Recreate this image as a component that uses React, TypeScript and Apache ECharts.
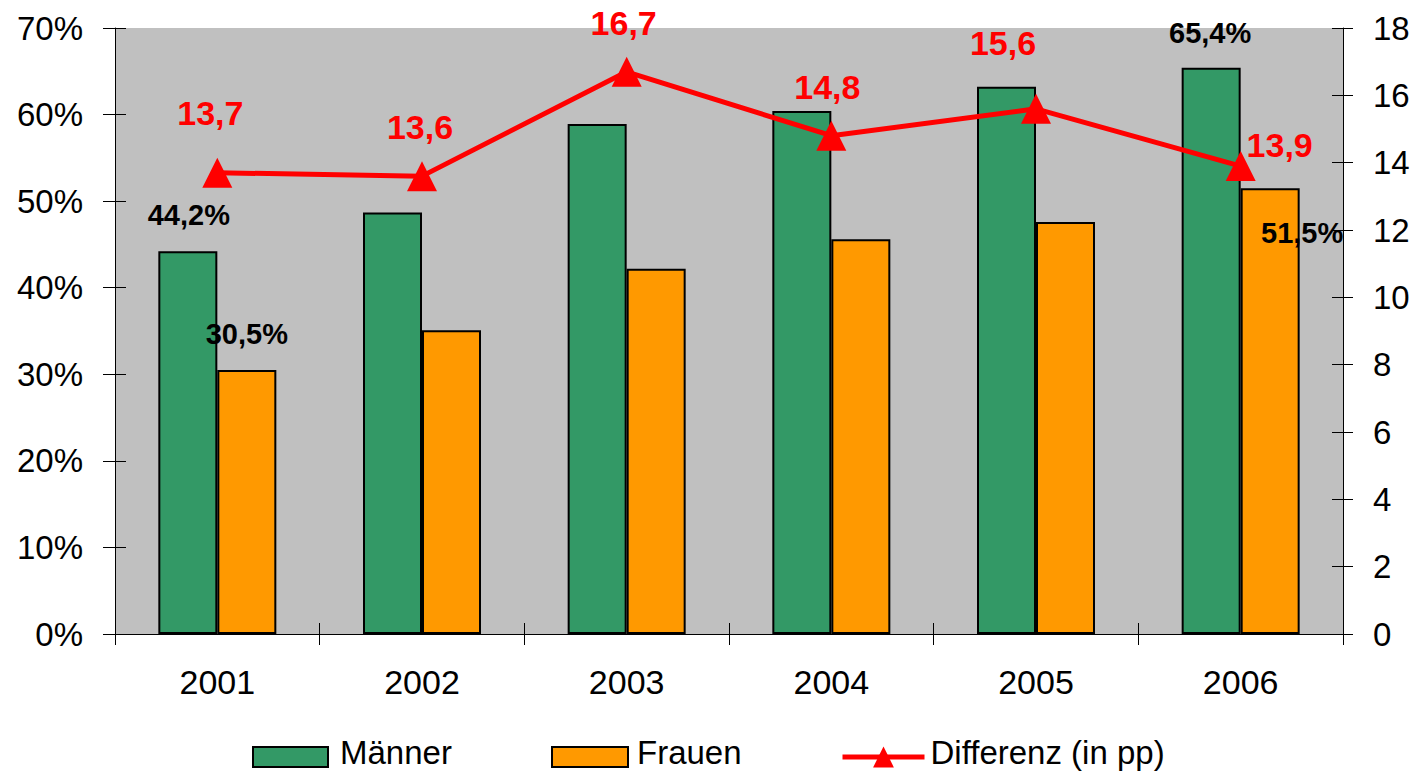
import React, { useEffect, useRef } from "react";
import * as echarts from "echarts";

const years = ["2001", "2002", "2003", "2004", "2005", "2006"];
const maenner = [44.2, 48.7, 58.9, 60.4, 63.2, 65.4];
const frauen = [30.5, 35.1, 42.2, 45.6, 47.6, 51.5];
const differenz = [13.7, 13.6, 16.7, 14.8, 15.6, 13.9];

// label offsets (style only)
const maennerLabelOffsets: (number[] | null)[] = [[1, -22], null, null, null, null, [-1, -20]];
const frauenLabelOffsets: (number[] | null)[] = [[0, -21], null, null, null, null, [32, 59]];
const diffLabelOffsets: number[][] = [[-7, -28], [-2, -17], [-3, -17], [-4, -17], [-33, -34], [39, 11]];

const FONT = "'Liberation Sans', Arial, sans-serif";
const fmt = (v: number) => v.toFixed(1).replace(".", ",");

export default function App() {
  const ref = useRef<HTMLDivElement>(null);
  useEffect(() => {
    if (!ref.current) return;
    const chart = echarts.init(ref.current, null, { renderer: "svg" });

    const barLabel = {
      show: true,
      position: "top",
      distance: 0,
      fontFamily: FONT,
      fontSize: 29,
      fontWeight: "bold",
      color: "#000",
      formatter: (p: any) => fmt(p.value) + "%",
    };

    const mData = maenner.map((v, i) =>
      maennerLabelOffsets[i]
        ? { value: v, label: { ...barLabel, offset: maennerLabelOffsets[i] } }
        : { value: v }
    );
    const fData = frauen.map((v, i) =>
      frauenLabelOffsets[i]
        ? { value: v, label: { ...barLabel, offset: frauenLabelOffsets[i] } }
        : { value: v }
    );
    const dData = differenz.map((v, i) => ({
      value: v,
      label: { offset: diffLabelOffsets[i] },
    }));

    const axisText = { fontFamily: FONT, fontSize: 33, color: "#000" };
    const legendRich = (padLeft: number) => ({
      rich: {
        t: {
          fontFamily: FONT,
          fontSize: 33,
          color: "#000",
          lineHeight: 33,
          padding: [0, 0, 9, padLeft],
        },
      },
    });
    const legendFormatter = (name: string) => `{t|${name}}`;
    // icon centre at y = 757; item height = 42
    const legendTop = 736;

    chart.setOption({
      animation: false,
      backgroundColor: "#fff",
      grid: {
        left: 115,
        right: 71,
        top: 28,
        bottom: 139,
        show: true,
        backgroundColor: "#C0C0C0",
        borderWidth: 0,
      },
      legend: [
        {
          data: ["Männer"],
          left: 252,
          top: legendTop,
          padding: 0,
          icon: "rect",
          itemWidth: 75,
          itemHeight: 20,
          formatter: legendFormatter,
          textStyle: legendRich(7),
        },
        {
          data: ["Frauen"],
          left: 551,
          top: legendTop,
          padding: 0,
          icon: "rect",
          itemWidth: 76,
          itemHeight: 20,
          formatter: legendFormatter,
          textStyle: legendRich(4),
        },
        {
          data: ["Differenz (in pp)"],
          left: 840,
          top: legendTop,
          padding: 0,
          itemWidth: 82,
          itemHeight: 26,
          lineStyle: { width: 5, color: "#FF0000" },
          formatter: legendFormatter,
          textStyle: legendRich(1),
        },
      ],
      xAxis: [
        {
          type: "category",
          data: years,
          position: "bottom",
          axisLine: { show: true, lineStyle: { color: "#000", width: 1 } },
          axisTick: { show: true, length: 11, lineStyle: { color: "#000" } },
          axisLabel: { ...axisText, fontSize: 34, margin: 31 },
          splitLine: { show: false },
        },
        {
          type: "category",
          data: years,
          position: "bottom",
          axisLine: { show: false },
          axisTick: { show: true, inside: true, length: 11, lineStyle: { color: "#000" } },
          axisLabel: { show: false },
          splitLine: { show: false },
        },
      ],
      yAxis: [
        {
          type: "value",
          min: 0,
          max: 70,
          interval: 10,
          position: "left",
          axisLine: { show: true, lineStyle: { color: "#000", width: 1 } },
          axisTick: { show: true, length: 12, lineStyle: { color: "#000" } },
          axisLabel: { ...axisText, margin: 32, formatter: "{value}%" },
          splitLine: { show: false },
        },
        {
          type: "value",
          min: 0,
          max: 18,
          interval: 2,
          position: "right",
          axisLine: { show: true, lineStyle: { color: "#000", width: 1 } },
          axisTick: { show: true, length: 10, lineStyle: { color: "#000" } },
          axisLabel: { ...axisText, margin: 30 },
          splitLine: { show: false },
        },
        {
          type: "value",
          min: 0,
          max: 70,
          interval: 10,
          position: "left",
          axisLine: { show: false },
          axisTick: { show: true, inside: true, length: 11, lineStyle: { color: "#000" } },
          axisLabel: { show: false },
          splitLine: { show: false },
        },
        {
          type: "value",
          min: 0,
          max: 18,
          interval: 2,
          position: "right",
          axisLine: { show: false },
          axisTick: { show: true, inside: true, length: 11, lineStyle: { color: "#000" } },
          axisLabel: { show: false },
          splitLine: { show: false },
        },
      ],
      series: [
        {
          name: "Männer",
          type: "bar",
          xAxisIndex: 0,
          yAxisIndex: 0,
          data: mData,
          barWidth: 59,
          barGap: "0%",
          itemStyle: { color: "#339966", borderColor: "#000", borderWidth: 2 },
          label: { show: false },
        },
        {
          name: "Frauen",
          type: "bar",
          xAxisIndex: 0,
          yAxisIndex: 0,
          data: fData,
          barWidth: 59,
          barGap: "0%",
          itemStyle: { color: "#FF9900", borderColor: "#000", borderWidth: 2 },
          label: { show: false },
        },
        {
          name: "Differenz (in pp)",
          type: "line",
          xAxisIndex: 0,
          yAxisIndex: 1,
          data: dData,
          symbol: "triangle",
          symbolSize: [30, 30],
          lineStyle: { color: "#FF0000", width: 5 },
          itemStyle: { color: "#FF0000" },
          label: {
            show: true,
            position: "top",
            distance: 0,
            fontFamily: FONT,
            fontSize: 34,
            fontWeight: "bold",
            color: "#FF0000",
            formatter: (p: any) => fmt(p.value),
          },
          z: 5,
        },
      ],
    });

    return () => chart.dispose();
  }, []);

  return (
    <div
      ref={ref}
      style={{ position: "fixed", left: 0, top: 0, width: "1414px", height: "773px" }}
    />
  );
}
